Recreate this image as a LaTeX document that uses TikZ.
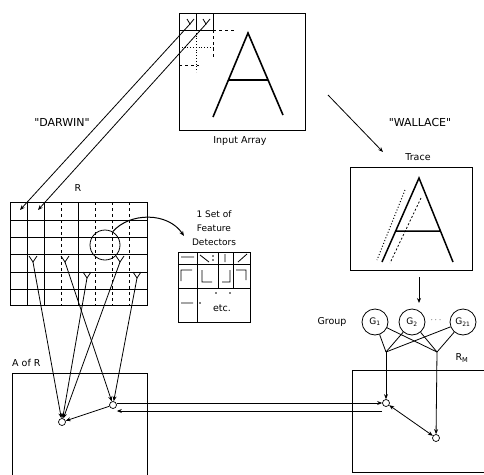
\documentclass[tikz,border=0pt]{standalone}
\usepackage{fontspec}
\setmainfont{DejaVu Sans}
\usetikzlibrary{arrows.meta}

\begin{document}
\begin{tikzpicture}[x=1pt, y=-1pt,
  box/.style={draw, line width=1.3pt, inner sep=0pt, anchor=north west},
  thin/.style={line width=0.8pt},
  cell/.style={draw, circle, inner sep=0pt, minimum size=7pt, line width=0.7pt},
  group/.style={draw, circle, inner sep=0pt, minimum size=26pt, line width=0.8pt,
                font=\fontsize{9}{9}\selectfont},
  arrow/.style={-{Stealth[length=5pt,width=4pt]}, line width=0.8pt},
  lbl/.style={font=\fontsize{9.5}{11}\selectfont, inner sep=1pt},
  caps/.style={font=\fontsize{11}{11}\selectfont, inner sep=1pt}
]
  \clip (0,0) rectangle (484,474);

  % boxes
  \node[box, minimum width=126pt, minimum height=117pt] (input) at (179,13)  {};
  \node[box, minimum width=122pt, minimum height=103pt] (trace) at (350,167) {};
  \node[box, minimum width=137pt, minimum height=103pt] (rgrid) at (10,202)  {};
  \node[box, line width=1pt, minimum width=72pt, minimum height=70pt] (fdbox) at (178,252) {};
  \node[box, minimum width=135pt, minimum height=120pt] (aofr) at (12,373)  {};
  \node[box, minimum width=150pt, minimum height=102pt] (rm)   at (352,370) {};

  % labels
  \node[lbl]  (inlabel)    at (240,141) {Input Array};
  \node[caps] (darwin)     at (62,122)  {\textquotedbl DARWIN\textquotedbl};
  \node[caps] (wallace)    at (420,122) {\textquotedbl WALLACE\textquotedbl};
  \node[lbl]  (tracelabel) at (418,157) {Trace};
  \node[lbl]  (rlabel)     at (78,188)  {R};
  \node[lbl, anchor=west] (arlabel) at (11,363) {A of R};
  \node[lbl, align=center, font=\fontsize{9}{14}\selectfont] (fdlabel) at (214,228)
       {1 Set of\\Feature\\Detectors};
  \node[lbl]  (etc)        at (222,308) {etc.};
  \node[lbl]  (grouplabel) at (332,322) {Group};
  \node[lbl]  (rmlabel)    at (462,358) {R\textsubscript{M}};

  % input array: cells and letter
  \draw[thin] (179,30) -- (213,30) (196,13) -- (196,30) (213,13) -- (213,30);
  \draw[thin, dashed] (213,30) -- (236,30) (213,30) -- (213,58) (179,65) -- (199,65);
  \draw[thin, dotted] (179,47) -- (213,47) (196,30) -- (196,72);
  \draw[line width=1.6pt] (213,117) -- (248,33) -- (283,115) (228,80) -- (268,80);

  % R grid
  \foreach \y in {220,237,254,272,289} \draw[thin] (10,\y) -- (147,\y);
  \foreach \x in {27,44,78} \draw[thin] (\x,202) -- (\x,305);
  \foreach \x in {61,95,112,129} \draw[thin, dashed] (\x,202) -- (\x,305);
  \node[draw, circle, thin, minimum size=30pt, inner sep=0pt] (focus) at (105,245) {};

  % feature detectors
  \draw[thin] (178,264) -- (250,264) (178,288) -- (250,288) (197,252) -- (197,322)
              (218,252) -- (218,288) (233,252) -- (233,288);
  \draw[thin] (181,257) -- (194,257) (200,255) -- (209,262) (225,254) -- (225,262)
              (238,262) -- (247,254)
              (181,281) -- (181,270) -- (192,270) (202,270) -- (202,282) -- (212,282)
              (222,282) -- (230,282) -- (230,270) (236,270) -- (246,270) -- (246,280)
              (181,303) -- (193,303);
  \fill (213,256) circle (0.8) (213,260) circle (0.8) (200,303) circle (0.8)
        (216,293) circle (0.8) (230,293) circle (0.8);
  \coordinate (fdin) at (184,236);
  \draw[arrow, line width=1pt] (focus.60) .. controls (130,212) and (168,212) .. (fdin);

  % darwin: input cells to R
  \coordinate (in1) at (190,24);
  \coordinate (in2) at (206,24);
  \coordinate (r1)  at (20,210);
  \coordinate (r2)  at (38,210);
  \draw[arrow] (in1) -- (r1);
  \draw[arrow] (in2) -- (r2);
  \foreach \p in {in1,in2} \draw[thin] ([shift={(-3,-5)}]\p) -- (\p) -- ([shift={(4,-5)}]\p);

  % detectors in R and A of R
  \coordinate (y1) at (33,262);
  \coordinate (y2) at (65,262);
  \coordinate (y3) at (87,278);
  \coordinate (y4) at (120,262);
  \coordinate (y5) at (137,278);
  \foreach \p in {y1,y2,y3,y4,y5} \draw[thin] ([shift={(-4,-6)}]\p) -- (\p) -- ([shift={(4,-6)}]\p);
  \node[cell] (nl) at (62,422) {};
  \node[cell] (nr) at (113,405) {};
  \draw[arrow] (y1) -- (nl);
  \draw[arrow] (y3) -- (nl);
  \draw[arrow] (y4) -- (nl);
  \draw[arrow] (y2) -- (nr);
  \draw[arrow] (y5) -- (nr);
  \draw[arrow] (nr) -- (nl);

  % wallace: trace
  \coordinate (wfrom) at (328,95);
  \coordinate (wto)   at (383,152);
  \draw[arrow] (wfrom) -- (wto);
  \draw[line width=1.5pt] (382,262) -- (419,178) -- (453,262) (396,231) -- (440,231);
  \draw[dotted, line width=1pt] (405,190) -- (377,260);
  \draw[line width=0.8pt, dash pattern=on 2pt off 2pt] (421,198) -- (390,263);

  % groups
  \coordinate (tfrom) at (419,277);
  \coordinate (tto)   at (419,303);
  \draw[arrow] (tfrom) -- (tto);
  \node[group] (g1) at (375,322) {G\textsubscript{1}};
  \node[group] (g2) at (412,322) {G\textsubscript{2}};
  \node[group] (g3) at (463,322) {G\textsubscript{21}};
  \node[lbl] (dots) at (436,320) {$\cdots$};
  \coordinate (p1) at (386,352);
  \coordinate (p2) at (437,352);
  \foreach \g in {g1,g2,g3} \draw[thin] (\g) -- (p1) (\g) -- (p2);

  % R_M
  \node[cell] (m1) at (386,403) {};
  \node[cell] (m2) at (436,438) {};
  \draw[arrow] (p1) -- (m1);
  \draw[arrow] (p2) -- (m2);
  \draw[arrow, {Stealth[length=5pt,width=4pt]}-{Stealth[length=5pt,width=4pt]}] (m1) -- (m2);

  % A of R <-> R_M
  \coordinate (hi) at ([yshift=2pt]nr.east);
  \coordinate (lo) at ([yshift=-6pt]nr.east);
  \draw[arrow, line width=0.9pt] (hi) -- (hi -| m1.west);
  \draw[arrow, line width=0.9pt] (lo -| m1.west) -- (lo);
\end{tikzpicture}
\end{document}
